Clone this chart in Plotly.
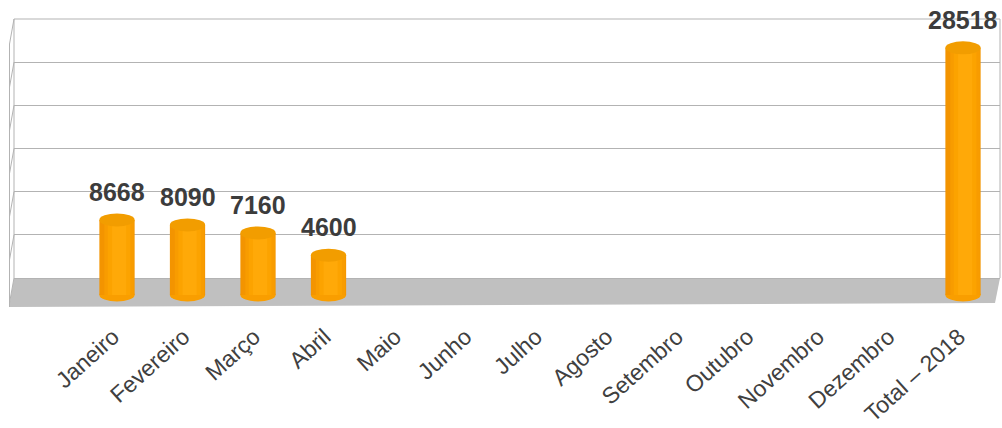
import plotly.graph_objects as go

categories = ["Janeiro", "Fevereiro", "Março", "Abril", "Maio", "Junho", "Julho",
              "Agosto", "Setembro", "Outubro", "Novembro", "Dezembro", "Total – 2018"]
values = [8668, 8090, 7160, 4600, None, None, None, None, None, None, None, None, 28518]
grid_ticks = [0, 5000, 10000, 15000, 20000, 25000, 30000]

W, H = 1002, 428
L, R, T, B = 14, 1000, 19, 307  # plot area pixels
pw, ph = R - L, B - T

def px(x):
    return (x - L) / pw

def py(y):
    return (B - y) / ph

# axis scales
x_range = [-(117 - L) / 70.5, (R - 117) / 70.5]
y_scale = 30000 / 260.0
y_range = [-(B - 295) * y_scale, (295 - T) * y_scale]
y2_scale = 30000 / 259.0
y2_range = [-(B - 278) * y2_scale, 30000 + 0.5 * y2_scale]

bw = 0.5
cap = 6.5 * y_scale

fig = go.Figure()

# invisible trace to carry the back-wall grid axis
fig.add_trace(go.Scatter(x=categories, y=[None] * len(categories), yaxis="y2",
                         mode="markers", marker=dict(opacity=0), hoverinfo="skip",
                         showlegend=False))

# cylinder bodies (shaded in vertical bands)
bands = [
    (bw, -bw / 2, "#F39400"),
    (0.42, -0.18, "#F89C00"),
    (0.32, -0.13, "#FCA300"),
    (0.20, -0.07, "#FFA908"),
]
for width, off, col in bands:
    fig.add_trace(go.Bar(x=categories, y=values, width=width, offset=off,
                         marker=dict(color=col, line=dict(width=0)),
                         hoverinfo="skip", showlegend=False))

shapes = []
# floor
shapes.append(dict(type="path", xref="paper", yref="paper", layer="below",
                   path=f"M {px(L)} {py(278)} L {px(R)} {py(278)} L {px(995)} {py(303)} L {px(9)} {py(307)} Z",
                   fillcolor="#C0C0C0", line=dict(width=0)))
# walls
wall_col = "#B3B3B3"
shapes.append(dict(type="line", xref="paper", yref="paper", x0=px(L), x1=px(L), y0=py(T), y1=py(278),
                   line=dict(color=wall_col, width=1)))
shapes.append(dict(type="line", xref="paper", yref="paper", x0=px(9.5), x1=px(9.5), y0=py(44), y1=py(307),
                   line=dict(color=wall_col, width=1)))
shapes.append(dict(type="line", xref="paper", yref="paper", x0=px(R), x1=px(R), y0=py(T), y1=py(278),
                   line=dict(color=wall_col, width=1)))
shapes.append(dict(type="line", xref="paper", yref="paper", x0=px(L), x1=px(R), y0=py(T), y1=py(T),
                   line=dict(color=wall_col, width=1)))
for g in grid_ticks:
    gy = 278 - g / y2_scale
    shapes.append(dict(type="line", xref="paper", yref="paper", x0=px(L), x1=px(9.5),
                       y0=py(gy), y1=py(min(gy + 25, 307)), line=dict(color=wall_col, width=1)))

# cylinder caps
for c, v in zip(categories, values):
    if v is None:
        continue
    i = categories.index(c)
    shapes.append(dict(type="circle", xref="x", yref="y", layer="below",
                       x0=i - bw / 2, x1=i + bw / 2, y0=-cap, y1=cap,
                       fillcolor="#F99E00", line=dict(width=0)))
    shapes.append(dict(type="circle", xref="x", yref="y", layer="above",
                       x0=i - bw / 2, x1=i + bw / 2, y0=v - cap, y1=v + cap,
                       fillcolor="#F29D00", line=dict(width=0)))

annotations = []
for c, v in zip(categories, values):
    if v is None:
        continue
    annotations.append(dict(x=c, y=v, xref="x", yref="y", text=str(v), showarrow=False,
                            yshift=28, yanchor="middle",
                            font=dict(family="Liberation Sans", size=25, color="#3C3C3C", weight="bold")))

fig.update_layout(
    template="none",
    width=W, height=H,
    margin=dict(l=L, r=W - R, t=T, b=H - B, pad=0, autoexpand=False),
    paper_bgcolor="white", plot_bgcolor="white",
    barmode="overlay",
    showlegend=False,
    shapes=shapes,
    annotations=annotations,
    xaxis=dict(type="category", range=x_range, showgrid=False, zeroline=False, automargin=False,
               showline=False, ticks="", tickangle=-42, ticklabelstandoff=11, ticklabelshift=-4,
               tickfont=dict(family="Liberation Sans", size=23, color="#404040")),
    yaxis=dict(range=y_range, showgrid=False, zeroline=False, showline=False, automargin=False,
               showticklabels=False, ticks=""),
    yaxis2=dict(range=y2_range, overlaying="y", side="left", showgrid=True, automargin=False,
                gridcolor=wall_col, gridwidth=1, tickvals=grid_ticks,
                zeroline=False, showline=False, showticklabels=False, ticks=""),
)

fig.write_html("out.html", config={"displayModeBar": False},
               post_script="document.body.style.margin='0';document.body.style.overflow='hidden';")
